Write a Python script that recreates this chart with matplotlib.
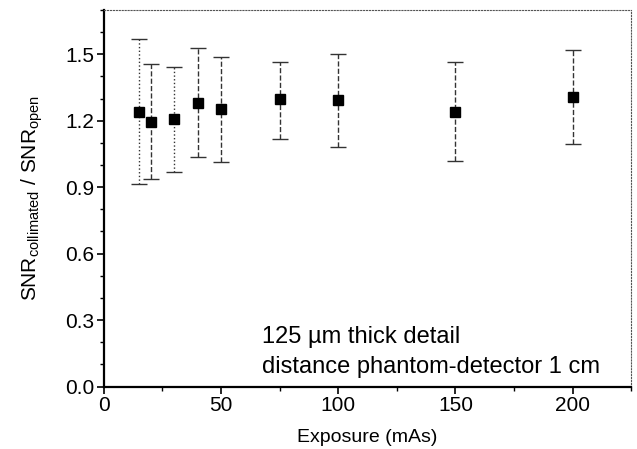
import numpy as np
import matplotlib
matplotlib.use("Agg")
import matplotlib.pyplot as plt
from matplotlib.ticker import MultipleLocator, FormatStrFormatter

plt.rcParams['font.family'] = ['Liberation Sans', 'DejaVu Sans']
plt.rcParams['mathtext.fontset'] = 'custom'
plt.rcParams['mathtext.rm'] = 'Liberation Sans'

# data
exposure = [15, 20, 30, 40, 50, 75, 100, 150, 200]
ratio = [1.239, 1.195, 1.206, 1.281, 1.251, 1.296, 1.293, 1.241, 1.307]
err_hi = [1.568, 1.455, 1.443, 1.527, 1.488, 1.467, 1.503, 1.464, 1.521]
err_lo = [0.915, 0.938, 0.967, 1.035, 1.014, 1.118, 1.080, 1.017, 1.093]
bar_styles = [':', '--', ':', '--', '--', '--', '--', '--', '--']

fig = plt.figure(figsize=(6.37, 4.49), dpi=100)
ax = fig.add_axes([0.163, 0.139, 0.828, 0.839])

for x, y, hi, lo, ls in zip(exposure, ratio, err_hi, err_lo, bar_styles):
    eb = ax.errorbar(x, y, yerr=[[y - lo], [hi - y]], fmt='s', color='black',
                     ecolor='#333333', markersize=6.5, capsize=5.5, elinewidth=1,
                     capthick=1)
    eb[2][0].set_linestyle(ls)

ax.set_xlim(0, 225)
ax.set_ylim(0, 1.7)
ax.xaxis.set_major_locator(MultipleLocator(50))
ax.xaxis.set_minor_locator(MultipleLocator(25))
ax.yaxis.set_major_locator(MultipleLocator(0.3))
ax.yaxis.set_minor_locator(MultipleLocator(0.1))
ax.yaxis.set_major_formatter(FormatStrFormatter('%.1f'))
ax.tick_params(which='major', direction='out', length=5, width=1.2, labelsize=15, pad=2)
ax.tick_params(which='minor', direction='out', length=3, width=1)

for s in ['left', 'bottom']:
    ax.spines[s].set_linewidth(1.6)
for s in ['top', 'right']:
    ax.spines[s].set_linestyle(':')
    ax.spines[s].set_linewidth(0.8)
    ax.spines[s].set_color('#555555')

ax.set_xlabel('Exposure (mAs)', fontsize=14, labelpad=10)
ax.set_ylabel(r'SNR$_{\mathrm{collimated}}$ / SNR$_{\mathrm{open}}$', fontsize=15, labelpad=14)

ax.text(0.30, 0.116, '125 \u00b5m thick detail', transform=ax.transAxes, fontsize=17)
ax.text(0.30, 0.036, 'distance phantom-detector 1 cm', transform=ax.transAxes, fontsize=17)

fig.savefig('out.png', dpi=100)
